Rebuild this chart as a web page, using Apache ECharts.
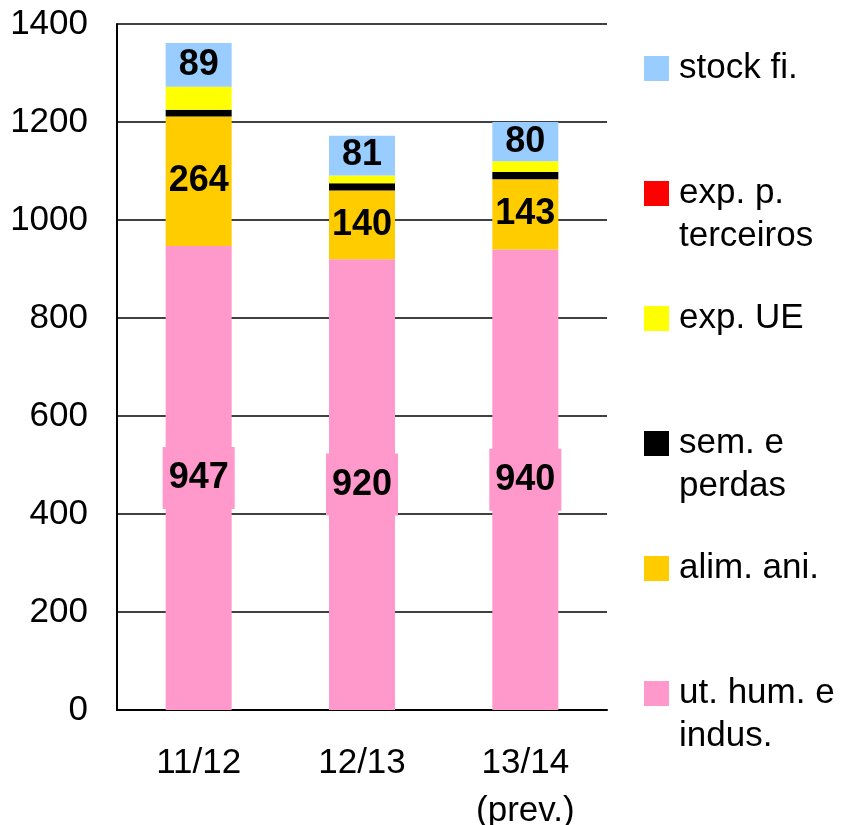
<!DOCTYPE html>
<html>
<head>
<meta charset="utf-8">
<script src="https://cdn.jsdelivr.net/npm/echarts@6/dist/echarts.min.js"></script>
<style>html,body{margin:0;padding:0;background:#fff;}#chart{width:848px;height:825px;}</style>
</head>
<body>
<div id="chart"></div>
<script>
var categories = ['11/12', '12/13', '13/14\n(prev.)'];
var seriesNames = ['ut. hum. e indus.', 'alim. ani.', 'sem. e perdas', 'exp. UE', 'exp. p. terceiros', 'stock fi.'];
var legendLabels = ['ut. hum. e\nindus.', 'alim. ani.', 'sem. e\nperdas', 'exp. UE', 'exp. p.\nterceiros', 'stock fi.'];
var utHum = [947, 920, 940];
var alimAni = [264, 140, 143];
var semPerdas = [14, 15, 15];
var expUE = [47, 16, 22];
var expTerceiros = [0, 0, 0];
var stockFi = [89, 81, 80];
var yTicks = [0, 200, 400, 600, 800, 1000, 1200, 1400];

var colors = ['#FF99CC', '#FFCC00', '#000000', '#FFFF00', '#FF0000', '#99CCFF'];
var showLabel = [true, true, false, false, false, true];
var values = [utHum, alimAni, semPerdas, expUE, expTerceiros, stockFi];
var FONT = '"Liberation Sans", Arial, sans-serif';
var TXT = 35;

var series = seriesNames.map(function (name, i) {
  var lbl = {
    show: showLabel[i],
    position: 'inside',
    fontFamily: FONT,
    fontSize: 36,
    fontWeight: 'bold',
    color: '#000'
  };
  if (i === 0) {
    lbl.backgroundColor = colors[0];
    lbl.padding = [12, 6];
    lbl.lineHeight = 38;
  }
  return {
    name: name,
    type: 'bar',
    stack: 'total',
    barWidth: 66,
    itemStyle: { color: colors[i] },
    label: lbl,
    data: values[i]
  };
});

// legend: one component per item, top-to-bottom in reverse stack order
var legends = [];
for (var k = 0; k < 6; k++) {
  var idx = 5 - k;
  var center = 68.5 + 125 * k;
  var twoLine = legendLabels[idx].indexOf('\n') >= 0;
  legends.push({
    data: [seriesNames[idx]],
    left: 644,
    top: twoLine ? center - 64.5 : center - 21.5,
    padding: 0,
    itemWidth: 25,
    itemHeight: 25,
    icon: 'rect',
    selectedMode: false,
    formatter: (function (lbl) { return function () { return lbl; }; })(twoLine ? '\n' + legendLabels[idx] : legendLabels[idx]),
    textStyle: {
      fontFamily: FONT,
      fontSize: TXT,
      color: '#000',
      lineHeight: 43,
      padding: [0, 0, 0, 5]
    }
  });
}

var chart = echarts.init(document.getElementById('chart'));
chart.setOption({
  animation: false,
  backgroundColor: '#fff',
  legend: legends,
  grid: { left: 117, right: 241, top: 24, bottom: 115, containLabel: false, outerBoundsMode: 'none' },
  xAxis: {
    type: 'category',
    data: categories,
    axisLine: { lineStyle: { color: '#000', width: 2 } },
    axisTick: { show: false },
    axisLabel: {
      fontFamily: FONT,
      fontSize: TXT,
      color: '#000',
      lineHeight: 48,
      margin: 29
    }
  },
  yAxis: {
    type: 'value',
    min: yTicks[0],
    max: yTicks[yTicks.length - 1],
    interval: yTicks[1] - yTicks[0],
    axisLine: { show: true, lineStyle: { color: '#000', width: 2 } },
    axisTick: { show: false },
    splitLine: { lineStyle: { color: '#000', width: 1.5 } },
    axisLabel: {
      fontFamily: FONT,
      fontSize: TXT,
      color: '#000',
      margin: 29,
      formatter: function (v) { return String(v); }
    }
  },
  series: series
});
</script>
</body>
</html>
